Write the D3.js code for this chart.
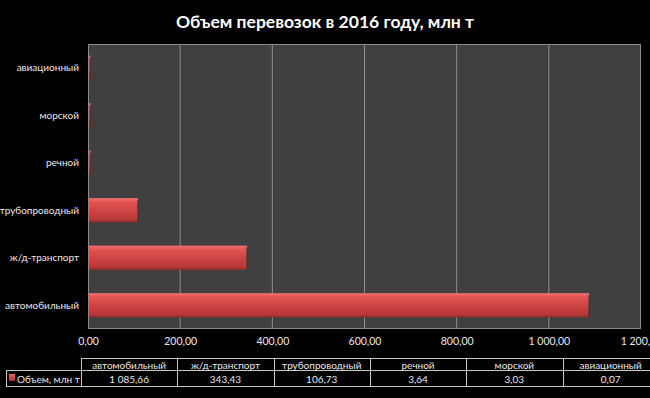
<!DOCTYPE html>
<html>
<head>
<meta charset="utf-8">
<script src="https://cdn.jsdelivr.net/npm/d3@7"></script>
<style>
  body { margin: 0; background: #000; }
  svg { display: block; font-family: Lato, "Open Sans", sans-serif; }
</style>
</head>
<body>
<div id="chart"></div>
<script>
// data, in table order
const categories = ["автомобильный", "ж/д-транспорт", "трубопроводный", "речной", "морской", "авиационный"];
const values = [1085.66, 343.43, 106.73, 3.64, 3.03, 0.07];
const tickValues = [0, 200, 400, 600, 800, 1000, 1200];
const seriesName = "Объем, млн т";
const title = "Объем перевозок в 2016 году, млн т";

const width = 650, height = 398;
const plot = {left: 88, right: 641, top: 44, bottom: 329};

// russian number format: space thousands, comma decimal
const ru = d3.formatLocale({decimal: ",", thousands: "\u00a0", grouping: [3], currency: ["", ""]});
const fmt = ru.format(",.2f");

const svg = d3.select("#chart").append("svg")
    .attr("width", width)
    .attr("height", height);

svg.append("rect").attr("width", width).attr("height", height).attr("fill", "#000");

// gradient for the bevelled bars
const defs = svg.append("defs");
const grad = defs.append("linearGradient")
    .attr("id", "barGrad")
    .attr("x1", 0).attr("y1", 0).attr("x2", 0).attr("y2", 1);
grad.append("stop").attr("offset", "0%").attr("stop-color", "#f27070");
grad.append("stop").attr("offset", "18%").attr("stop-color", "#e25252");
grad.append("stop").attr("offset", "55%").attr("stop-color", "#cc4444");
grad.append("stop").attr("offset", "88%").attr("stop-color", "#b53838");
grad.append("stop").attr("offset", "100%").attr("stop-color", "#8e2a2a");

// title
svg.append("text")
    .attr("x", width / 2)
    .attr("y", 28)
    .attr("text-anchor", "middle")
    .attr("fill", "#fff")
    .style("font-size", "17.5px")
    .style("font-weight", "bold")
    .text(title);

const x = d3.scaleLinear().domain([0, 1200]).range([plot.left, plot.right]);
// first category at the bottom
const y = d3.scaleBand()
    .domain(categories)
    .range([plot.bottom, plot.top])
    .paddingInner(0.49)
    .paddingOuter(0.245);

// plot background
svg.append("rect")
    .attr("x", plot.left).attr("y", plot.top)
    .attr("width", plot.right - plot.left)
    .attr("height", plot.bottom - plot.top)
    .attr("fill", "#404040");

// gridlines
svg.append("g")
    .selectAll("line")
    .data(tickValues.slice(1, -1))
    .enter().append("line")
    .attr("x1", d => x(d)).attr("x2", d => x(d))
    .attr("y1", plot.top).attr("y2", plot.bottom)
    .attr("stroke", "#8c8c8c")
    .attr("stroke-width", 1);

// plot border
svg.append("rect")
    .attr("x", plot.left + 0.5).attr("y", plot.top + 0.5)
    .attr("width", plot.right - plot.left - 1)
    .attr("height", plot.bottom - plot.top - 1)
    .attr("fill", "none")
    .attr("stroke", "#8c8c8c");

// bars
const bars = svg.append("g")
    .selectAll("g")
    .data(categories.map((c, i) => ({name: c, value: values[i]})))
    .enter().append("g");

bars.append("rect")
    .attr("x", x(0) + 1)
    .attr("y", d => y(d.name))
    .attr("width", d => Math.max(1.5, x(d.value) - x(0)))
    .attr("height", y.bandwidth())
    .attr("fill", "url(#barGrad)");

// shadow edge at bar end
bars.append("rect")
    .attr("x", d => x(0) + Math.max(1.5, x(d.value) - x(0)))
    .attr("y", d => y(d.name) + 2)
    .attr("width", 1.5)
    .attr("height", y.bandwidth() - 2)
    .attr("fill", "#5a1f1f")
    .attr("opacity", 0.7);

// category labels
svg.append("g")
    .selectAll("text")
    .data(categories)
    .enter().append("text")
    .attr("x", plot.left - 9)
    .attr("y", d => y(d) + y.bandwidth() / 2)
    .attr("dy", "0.35em")
    .attr("text-anchor", "end")
    .attr("fill", "#e8e8e8")
    .style("font-size", "10px")
    .text(d => d);

// x axis labels
const xAxis = d3.axisBottom(x)
    .tickValues(tickValues)
    .tickFormat(fmt)
    .tickSize(0)
    .tickPadding(9);
const gx = svg.append("g")
    .attr("transform", `translate(0,${plot.bottom})`)
    .call(xAxis);
gx.select(".domain").remove();
gx.selectAll("text")
    .attr("fill", "#e8e8e8")
    .style("font-size", "10.5px")
    .style("font-family", "Lato, sans-serif");

// data table
const tbl = {left: 81, colW: 96.3, top: 358, mid: 370, bottom: 386, legendLeft: 6};
const col = d3.scaleBand()
    .domain(categories)
    .range([tbl.left, tbl.left + tbl.colW * categories.length]);

const tg = svg.append("g");
const lineColor = "#c8c8c8";

// horizontal lines
tg.append("line").attr("x1", tbl.left).attr("x2", width).attr("y1", tbl.top + 0.5).attr("y2", tbl.top + 0.5).attr("stroke", lineColor);
tg.append("line").attr("x1", tbl.legendLeft).attr("x2", width).attr("y1", tbl.mid + 0.5).attr("y2", tbl.mid + 0.5).attr("stroke", lineColor);
tg.append("line").attr("x1", tbl.legendLeft).attr("x2", width).attr("y1", tbl.bottom + 0.5).attr("y2", tbl.bottom + 0.5).attr("stroke", lineColor);

// vertical lines
tg.append("line").attr("x1", tbl.legendLeft + 0.5).attr("x2", tbl.legendLeft + 0.5).attr("y1", tbl.mid).attr("y2", tbl.bottom).attr("stroke", lineColor);
tg.selectAll(".vline")
    .data(categories)
    .enter().append("line")
    .attr("class", "vline")
    .attr("x1", d => Math.round(col(d)) + 0.5)
    .attr("x2", d => Math.round(col(d)) + 0.5)
    .attr("y1", tbl.top).attr("y2", tbl.bottom)
    .attr("stroke", lineColor);

// header texts
tg.selectAll(".head")
    .data(categories)
    .enter().append("text")
    .attr("class", "head")
    .attr("x", d => col(d) + col.bandwidth() / 2)
    .attr("y", (tbl.top + tbl.mid) / 2 + 1)
    .attr("dy", "0.35em")
    .attr("text-anchor", "middle")
    .attr("fill", "#e8e8e8")
    .style("font-size", "10px")
    .text(d => d);

// value texts
tg.selectAll(".val")
    .data(categories.map((c, i) => ({name: c, value: values[i]})))
    .enter().append("text")
    .attr("class", "val")
    .attr("x", d => col(d.name) + col.bandwidth() / 2)
    .attr("y", (tbl.mid + tbl.bottom) / 2 + 1)
    .attr("dy", "0.35em")
    .attr("text-anchor", "middle")
    .attr("fill", "#e8e8e8")
    .style("font-size", "10px")
    .text(d => fmt(d.value));

// legend key in the table
tg.append("rect")
    .attr("x", 9).attr("y", 374)
    .attr("width", 6).attr("height", 7)
    .attr("fill", "url(#barGrad)");
tg.append("text")
    .attr("x", 17)
    .attr("y", (tbl.mid + tbl.bottom) / 2 + 1)
    .attr("dy", "0.35em")
    .attr("fill", "#e8e8e8")
    .style("font-size", "10px")
    .text(seriesName);
</script>
</body>
</html>
